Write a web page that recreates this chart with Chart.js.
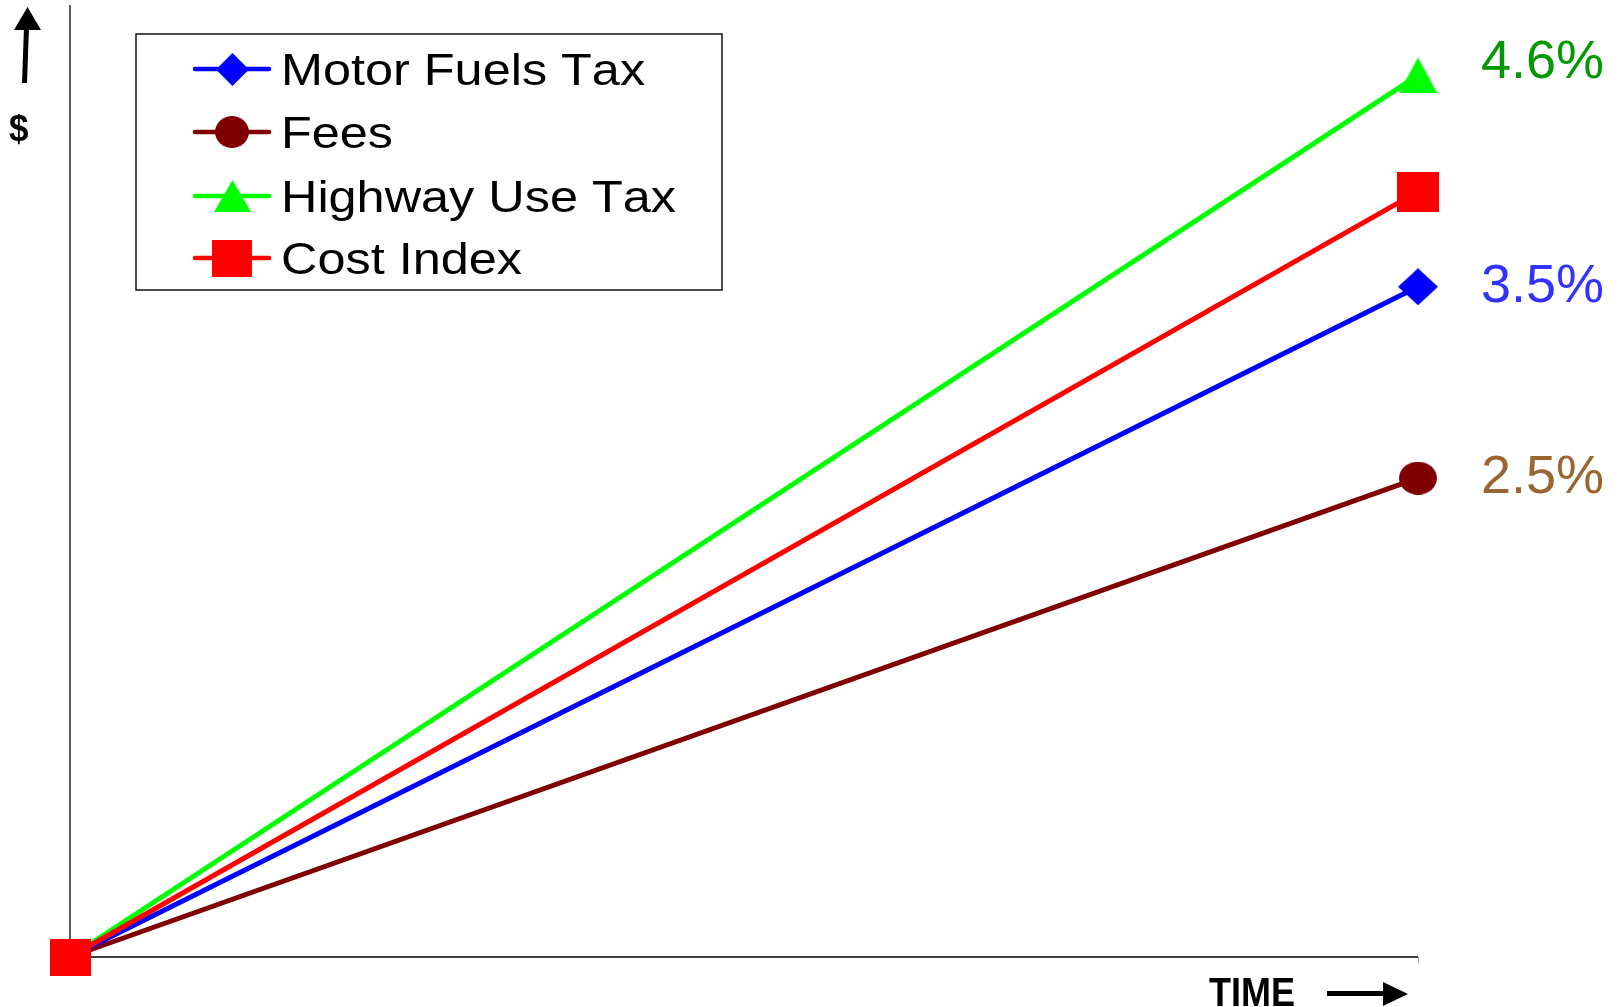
<!DOCTYPE html>
<html><head><meta charset="utf-8">
<script src="https://cdn.jsdelivr.net/npm/chart.js@4.4.1/dist/chart.umd.min.js"></script>
<style>html,body{margin:0;padding:0;background:#fff;overflow:hidden}#wrap{width:1620px;height:1007px}</style>
</head><body><div id="wrap"><canvas id="c" width="1620" height="1007"></canvas></div>
<script>
// ---- data (relative $ growth, start -> end) ----
const periods = [0, 1];
const seriesNames = ['Motor Fuels Tax', 'Fees', 'Highway Use Tax', 'Cost Index'];
const motorFuelsTax = [0, 70.4];
const fees = [0, 50.3];
const highwayUseTax = [0, 92.6];
const costIndex = [0, 80.4];
const growthLabels = ['3.5%', '2.5%', '4.6%'];   // for Motor Fuels Tax, Fees, Highway Use Tax
const yAxisLabel = '$';
const xAxisLabel = 'TIME';

const FONT = '"Liberation Sans", Arial, sans-serif';
const colors = ['#0000ff', '#800000', '#00ff00', '#ff0000'];
const labelColors = ['#3333ff', '#996633', '#009900'];

function marker(shape, w, h, color) {
  const c = document.createElement('canvas'); c.width = w; c.height = h;
  const g = c.getContext('2d'); g.fillStyle = color; g.beginPath();
  if (shape === 'diamond') { g.moveTo(w/2, 0); g.lineTo(w, h/2); g.lineTo(w/2, h); g.lineTo(0, h/2); g.closePath(); }
  else if (shape === 'circle') { g.ellipse(w/2, h/2, w/2, h/2, 0, 0, Math.PI*2); }
  else if (shape === 'triangle') { g.moveTo(w/2, 0); g.lineTo(w, h); g.lineTo(0, h); g.closePath(); }
  else { g.rect(0, 0, w, h); }
  g.fill(); return c;
}
const endMarkers = [
  marker('diamond', 40, 37, colors[0]),
  marker('circle', 38, 33, colors[1]),
  marker('triangle', 39, 36, colors[2]),
  marker('rect', 42, 40, colors[3])
];
const originSquare = marker('rect', 41, 37, colors[3]);
const legendMarkers = [
  marker('diamond', 33, 33, colors[0]),
  marker('circle', 34, 32, colors[1]),
  marker('triangle', 37, 32, colors[2]),
  marker('rect', 40, 37, colors[3])
];

const values = [motorFuelsTax, fees, highwayUseTax, costIndex];
const datasets = values.map((arr, i) => ({
  label: seriesNames[i],
  data: periods.map((p, j) => ({ x: p, y: arr[j] })),
  borderColor: colors[i],
  backgroundColor: colors[i],
  borderWidth: 5,
  pointStyle: i === 3 ? [originSquare, endMarkers[3]] : endMarkers[i],
  pointRadius: i === 3 ? [20, 20] : [0, 20],
  pointHoverRadius: i === 3 ? [20, 20] : [0, 20],
  pointBorderWidth: 0,
  order: i === 3 ? 0 : 1,
  clip: false,
  tension: 0
}));

const decor = {
  id: 'decor',
  beforeDatasetsDraw(chart) {
    const ctx = chart.ctx, xs = chart.scales.x, ys = chart.scales.y;
    const x0 = xs.getPixelForValue(0), x1 = xs.getPixelForValue(1);
    const y0 = ys.getPixelForValue(0), yT = ys.getPixelForValue(100);
    ctx.save();
    ctx.strokeStyle = '#222'; ctx.lineWidth = 1.5;
    ctx.beginPath(); ctx.moveTo(x0, yT); ctx.lineTo(x0, y0); ctx.stroke();
    ctx.strokeStyle = '#404040'; ctx.lineWidth = 2;
    ctx.beginPath(); ctx.moveTo(x0, y0); ctx.lineTo(x1, y0); ctx.stroke();
    ctx.strokeStyle = '#999'; ctx.lineWidth = 1;
    ctx.beginPath(); ctx.moveTo(x1 + 0.5, y0); ctx.lineTo(x1 + 0.5, y0 + 6); ctx.stroke();
    ctx.restore();
  },
  afterDraw(chart) {
    const ctx = chart.ctx, xs = chart.scales.x, ys = chart.scales.y;
    ctx.save();
    if ('fontKerning' in ctx) ctx.fontKerning = 'none';
    // legend
    ctx.strokeStyle = '#111'; ctx.lineWidth = 1.5;
    ctx.strokeRect(136, 34, 586, 256);
    const itemY = [69, 132, 196, 258];
    seriesNames.forEach((name, i) => {
      const y = itemY[i];
      ctx.strokeStyle = colors[i]; ctx.lineWidth = 4.5; ctx.lineCap = 'round';
      ctx.beginPath(); ctx.moveTo(195, y); ctx.lineTo(269, y); ctx.stroke();
      const m = legendMarkers[i];
      ctx.drawImage(m, Math.round(232 - m.width/2), Math.round(y - m.height/2));
      ctx.save();
      ctx.translate(281, y + 16); ctx.scale(1.12, 1);
      ctx.fillStyle = '#000'; ctx.font = '45px ' + FONT; ctx.textBaseline = 'alphabetic';
      ctx.fillText(name, 0, 0);
      ctx.restore();
    });
    // growth rate labels next to end points
    const dy = [15, 15, 2.5];
    ctx.font = '54px ' + FONT; ctx.textBaseline = 'alphabetic';
    growthLabels.forEach((t, i) => {
      const py = ys.getPixelForValue(values[i][1]);
      ctx.fillStyle = labelColors[i];
      ctx.fillText(t, xs.getPixelForValue(1) + 63, py + dy[i]);
    });
    // y axis label and arrow
    ctx.fillStyle = '#000';
    ctx.beginPath(); ctx.moveTo(22, 83); ctx.lineTo(27, 83); ctx.lineTo(29, 27); ctx.lineTo(24, 27); ctx.closePath(); ctx.fill();
    ctx.beginPath(); ctx.moveTo(14, 30); ctx.lineTo(41, 30); ctx.lineTo(27.5, 7); ctx.closePath(); ctx.fill();
    ctx.save(); ctx.translate(9, 141); ctx.scale(0.95, 1);
    ctx.font = 'bold 37px ' + FONT; ctx.fillText(yAxisLabel, 0, 0); ctx.restore();
    // x axis label and arrow
    ctx.save(); ctx.translate(1209, 1006); ctx.scale(0.9, 1);
    ctx.font = 'bold 40px ' + FONT; ctx.fillText(xAxisLabel, 0, 0); ctx.restore();
    ctx.fillRect(1327, 991, 60, 5);
    ctx.beginPath(); ctx.moveTo(1383, 982); ctx.lineTo(1383, 1006); ctx.lineTo(1408, 994); ctx.closePath(); ctx.fill();
    ctx.restore();
  }
};

new Chart(document.getElementById('c'), {
  type: 'line',
  data: { datasets },
  options: {
    responsive: false,
    animation: false,
    events: [],
    layout: { autoPadding: false, padding: { left: 70, right: 202, top: 5, bottom: 50 } },
    scales: {
      x: { type: 'linear', min: 0, max: 1, display: false },
      y: { type: 'linear', min: 0, max: 100, display: false }
    },
    plugins: { legend: { display: false }, tooltip: { enabled: false } }
  },
  plugins: [decor]
});
</script>
</body></html>
